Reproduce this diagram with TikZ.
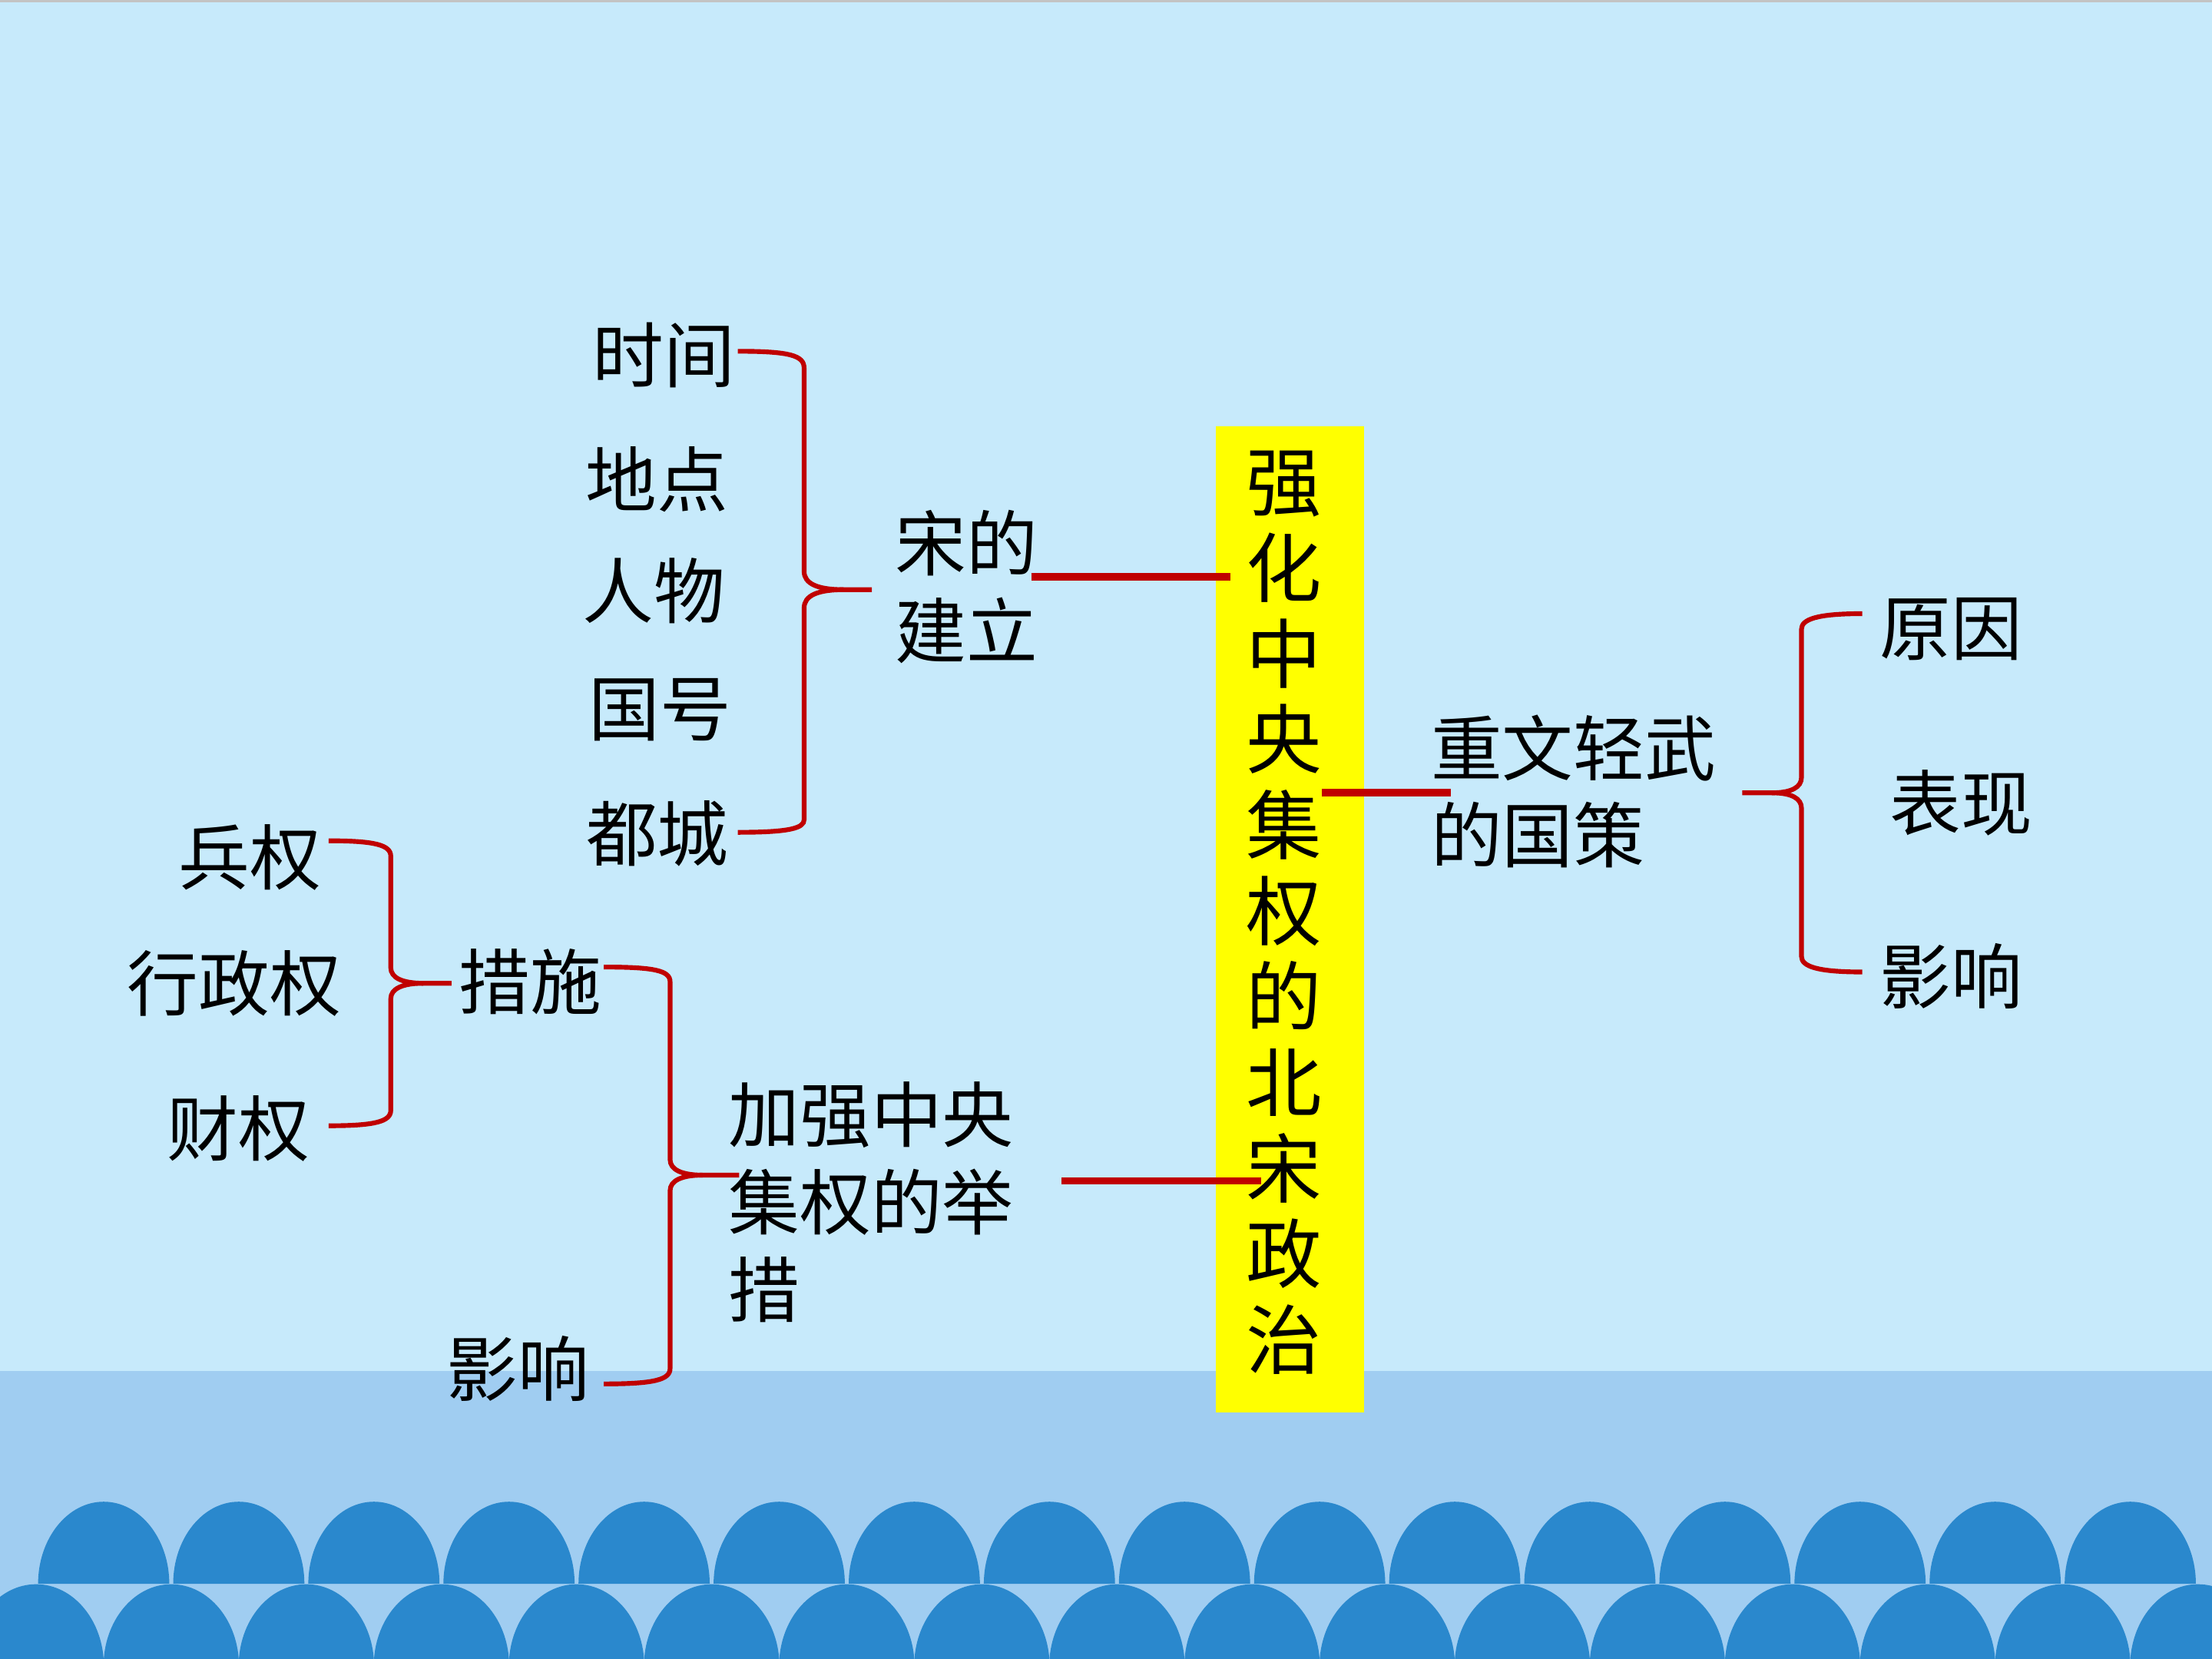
\documentclass[tikz,border=0pt]{standalone}
\usepackage{fontspec}
\newfontfamily\cjk{Noto Sans CJK SC}
\definecolor{bgTop}{RGB}{199,234,251}
\definecolor{bandBlue}{RGB}{160,205,241}
\definecolor{waveBlue}{RGB}{42,136,205}
\definecolor{lineRed}{RGB}{192,0,0}
\definecolor{boxYellow}{RGB}{255,255,0}
\definecolor{topGray}{RGB}{195,195,195}
\begin{document}
\begin{tikzpicture}[x=0.183673mm, y=-0.183673mm,
  lbl/.style={font=\cjk\fontsize{26.4}{32.4}\selectfont, inner sep=0pt, text=black},
  lblL/.style={lbl, align=left},
  vtext/.style={font=\cjk\fontsize{28}{31.77}\selectfont, inner sep=0pt, align=center, text=black},
  mainbox/.style={fill=boxYellow, draw=none, inner sep=0pt, minimum width=19.286mm, minimum height=128.39mm},
  conn/.style={draw=lineRed, line width=2.75pt},
  bstroke/.style={draw=lineRed, line width=1.75pt}
]
\useasboundingbox (0,0) rectangle (1568,1176);
\clip (0,0) rectangle (1568,1176);
% background
\fill[bgTop] (0,0) rectangle (1568,1176);
\fill[bandBlue] (0,972) rectangle (1568,1176);
\fill[topGray] (0,0) rectangle (1568,1.6);
% waves: bottom row
\foreach \k in {-1,...,15} {
  \pgfmathsetmacro\cx{121.4+95.77*\k}
  \fill[waveBlue] (\cx-48,1181) .. controls (\cx-48,1149) and (\cx-26.5,1123) .. (\cx,1123)
     .. controls (\cx+26.5,1123) and (\cx+48,1149) .. (\cx+48,1181) -- cycle;
}
% waves: top row
\foreach \k in {0,...,15} {
  \pgfmathsetmacro\cx{73.5+95.77*\k}
  \fill[waveBlue] (\cx-46.5,1122.7) .. controls (\cx-46.5,1090.7) and (\cx-25.7,1064.5) .. (\cx,1064.5)
     .. controls (\cx+25.7,1064.5) and (\cx+46.5,1090.7) .. (\cx+46.5,1122.7) -- cycle;
}
% central box
\node[mainbox] (mainbox) at (914.5,651.5) {};
\node[vtext] (title) at (910,647) {强\\化\\中\\央\\集\\权\\的\\北\\宋\\政\\治};
% upper left group
\node[lbl] (t1) at (470.5,252) {时间};
\node[lbl] (t2) at (465.5,340) {地点};
\node[lbl] (t3) at (463.5,419) {人物};
\node[lbl] (t4) at (468,503) {国号};
\node[lbl] (t5) at (466,591) {都城};
\node[lbl, align=center] (song) at (685,416) {宋的\\建立};
% lower left group
\node[lbl] (b1) at (177,608) {兵权};
\node[lbl] (b2) at (166,697) {行政权};
\node[lbl] (b3) at (169,800) {财权};
\node[lbl] (cs) at (376,696) {措施};
\node[lbl] (yx1) at (367,970) {影响};
\node[lblL, anchor=west] (jq) at (516,852) {加强中央\\集权的举\\措};
% right group
\node[lblL, anchor=west] (zw) at (1014,561) {重文轻武\\的国策};
\node[lbl] (r1) at (1383,446) {原因};
\node[lbl] (r2) at (1390,569) {表现};
\node[lbl] (r3) at (1383,692) {影响};
% connector end points
\coordinate (aTop) at (523,249);
\coordinate (aBot) at (523,590);
\coordinate (aTip) at (618,418);
\coordinate (bTop) at (233,596);
\coordinate (bBot) at (233,798);
\coordinate (bTip) at (320,697);
\coordinate (cTop) at (428,685.5);
\coordinate (cBot) at (428,981);
\coordinate (cTip) at (524,833);
\coordinate (dTop) at (1320,435);
\coordinate (dBot) at (1320,689);
\coordinate (dTip) at (1235,562);
\coordinate (songR) at (731,409);
\coordinate (boxL1) at (872,409);
\coordinate (boxR) at (937,562);
\coordinate (zwL) at (1028.5,562);
\coordinate (jqR) at (752.5,837);
\coordinate (boxL2) at (894,837);
% straight connectors
\draw[conn] (songR) -- (boxL1);
\draw[conn] (boxR) -- (zwL);
\draw[conn] (jqR) -- (boxL2);
% brace A
\draw[bstroke] (aTop) .. controls (560,249) and (570,252) .. (570,261) -- (570,405)
   .. controls (570,414) and (580,418) .. (598,418) -- (aTip);
\draw[bstroke] (598,418) .. controls (580,418) and (570,422) .. (570,431) -- (570,581)
   .. controls (570,587) and (560,590) .. (aBot);
% brace B
\draw[bstroke] (bTop) .. controls (266,596) and (277,599) .. (277,607) -- (277,686)
   .. controls (277,693) and (285,697) .. (300,697) -- (bTip);
\draw[bstroke] (300,697) .. controls (285,697) and (277,701) .. (277,708) -- (277,787)
   .. controls (277,795) and (266,798) .. (bBot);
% brace C
\draw[bstroke] (cTop) .. controls (464,685.5) and (475,688) .. (475,696) -- (475,822)
   .. controls (475,829) and (483,833) .. (498,833) -- (cTip);
\draw[bstroke] (498,833) .. controls (483,833) and (475,837) .. (475,844) -- (475,970)
   .. controls (475,978) and (464,981) .. (cBot);
% brace D
\draw[bstroke] (dTip) -- (1256,562) .. controls (1270,562) and (1277,558) .. (1277,551) -- (1277,446)
   .. controls (1277,439) and (1288,435) .. (dTop);
\draw[bstroke] (1256,562) .. controls (1270,562) and (1277,566) .. (1277,573) -- (1277,678)
   .. controls (1277,685) and (1288,689) .. (dBot);
\end{tikzpicture}
\end{document}
